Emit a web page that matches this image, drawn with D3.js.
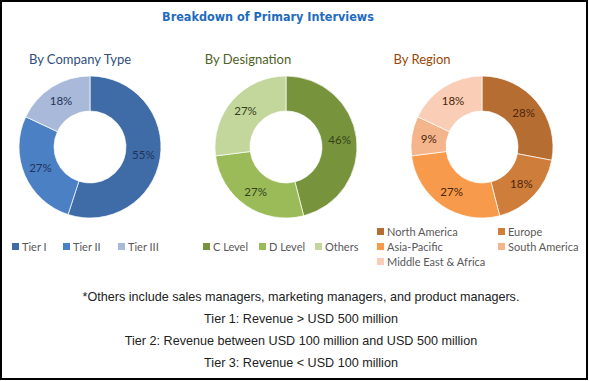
<!DOCTYPE html>
<html>
<head>
<meta charset="utf-8">
<script src="https://cdn.jsdelivr.net/npm/d3@7"></script>
<style>
  body { margin: 0; background: #fff; }
  svg { display: block; }
</style>
</head>
<body>
<div id="chart"></div>
<script>
// data
var companyLabels = ["Tier I", "Tier II", "Tier III"];
var companyValues = [55, 27, 18];
var companyColors = ["#3f6ba6", "#4c80c4", "#a9b9d9"];

var designationLabels = ["C Level", "D Level", "Others"];
var designationValues = [46, 27, 27];
var designationColors = ["#77933c", "#9bbb59", "#c3d69b"];

var regionLabels = ["North America", "Europe", "Asia-Pacific", "South America", "Middle East & Africa"];
var regionValues = [28, 18, 27, 9, 18];
var regionColors = ["#b66d31", "#cf7d3b", "#f79a4b", "#f5b58c", "#f9cdb6"];

var notes = [
    "*Others include sales managers, marketing managers, and product managers.",
    "Tier 1: Revenue > USD 500 million",
    "Tier 2: Revenue between USD 100 million and USD 500 million",
    "Tier 3: Revenue < USD 100 million"
];

var width = 589, height = 381;

var svg = d3.select("#chart")
    .append("svg")
    .attr("width", width)
    .attr("height", height);

// frame
svg.append("rect")
    .attr("x", 1).attr("y", 1)
    .attr("width", 586).attr("height", 378)
    .attr("fill", "#fff")
    .attr("stroke", "#000")
    .attr("stroke-width", 2);

svg.append("text")
    .attr("x", 268).attr("y", 21)
    .attr("text-anchor", "middle")
    .attr("font-family", "DejaVu Sans Condensed, DejaVu Sans")
    .attr("font-weight", "bold")
    .attr("font-size", "12.5px")
    .attr("fill", "#1f6bbd")
    .text("Breakdown of Primary Interviews");

var pie = d3.pie().sort(null).value(function(d) { return d; });
var arc = d3.arc().innerRadius(36).outerRadius(71);
var labelArc = d3.arc().innerRadius(54).outerRadius(54);

function drawDonut(cx, cy, values, colors, labelColor, title, titleX, titleColor) {
    svg.append("text")
        .attr("x", titleX).attr("y", 64)
        .attr("text-anchor", "middle")
        .attr("font-family", "Lato")
        .attr("font-size", "13px")
        .attr("fill", titleColor)
        .text(title);

    var g = svg.append("g").attr("transform", "translate(" + cx + "," + cy + ")");
    var arcs = pie(values);

    g.selectAll("path")
        .data(arcs)
        .enter()
        .append("path")
        .attr("d", arc)
        .attr("fill", function(d, i) { return colors[i]; })
        .attr("stroke", "#fff")
        .attr("stroke-width", 0.7);

    g.selectAll("text")
        .data(arcs)
        .enter()
        .append("text")
        .attr("transform", function(d) { return "translate(" + labelArc.centroid(d) + ")"; })
        .attr("text-anchor", "middle")
        .attr("dy", "0.35em")
        .attr("font-family", "Lato")
        .attr("font-size", "11.5px")
        .attr("fill", labelColor)
        .text(function(d) { return d.value + "%"; });
}

drawDonut(90, 147, companyValues, companyColors, "#1f3458", "By Company Type", 80, "#2e4f7a");
drawDonut(286, 147, designationValues, designationColors, "#34421a", "By Designation", 248, "#4f6228");
drawDonut(482, 147, regionValues, regionColors, "#4a260b", "By Region", 422, "#984807");

function legendItem(x, y, label, color) {
    svg.append("rect")
        .attr("x", x).attr("y", y - 4)
        .attr("width", 7).attr("height", 7)
        .attr("fill", color);
    svg.append("text")
        .attr("x", x + 10).attr("y", y)
        .attr("dy", "0.33em")
        .attr("font-family", "Lato")
        .attr("font-size", "11px")
        .attr("fill", "#595959")
        .text(label);
}

// legends
var companyX = [12, 63, 118];
companyLabels.forEach(function(l, i) { legendItem(companyX[i], 247, l, companyColors[i]); });

var designationX = [203, 259, 315];
designationLabels.forEach(function(l, i) { legendItem(designationX[i], 247, l, designationColors[i]); });

var regionPos = [[377, 232], [498, 232], [377, 247], [498, 247], [377, 262]];
regionLabels.forEach(function(l, i) { legendItem(regionPos[i][0], regionPos[i][1], l, regionColors[i]); });

// footnotes
var noteY = [297, 319, 341, 363];
notes.forEach(function(n, i) {
    svg.append("text")
        .attr("x", 301).attr("y", noteY[i])
        .attr("dy", "0.35em")
        .attr("text-anchor", "middle")
        .attr("font-family", "Liberation Sans")
        .attr("font-size", "12.6px")
        .attr("fill", "#222")
        .text(n);
});
</script>
</body>
</html>
